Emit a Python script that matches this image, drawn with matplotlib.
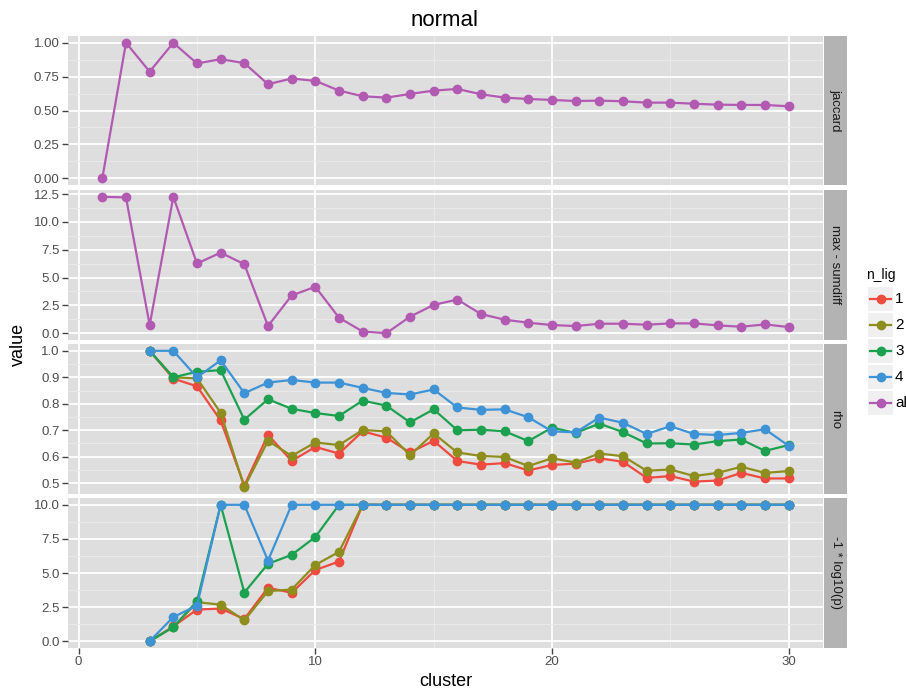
"""plot.py
Faceted line chart (ggplot-like) of cluster metrics, title 'normal'.
"""

import matplotlib.pyplot as plt
from matplotlib.patches import Rectangle

plt.rcParams['font.family'] = ['Liberation Sans', 'DejaVu Sans']

W, H = 906, 690

cluster_all = list(range(1, 31))
cluster_lig = list(range(3, 31))

jaccard_all = [0.0, 1.0, 0.787, 1.0, 0.847, 0.879, 0.85, 0.694, 0.736, 0.719,
               0.647, 0.605, 0.595, 0.622, 0.647, 0.659, 0.62, 0.595, 0.585, 0.578,
               0.57, 0.573, 0.568, 0.558, 0.558, 0.55, 0.543, 0.541, 0.541, 0.531]
sumdiff_all = [12.25, 12.2, 0.73, 12.25, 6.26, 7.23, 6.2, 0.64, 3.39, 4.17,
               1.39, 0.15, 0.0, 1.48, 2.54, 3.02, 1.72, 1.21, 0.94, 0.73,
               0.64, 0.85, 0.85, 0.76, 0.88, 0.88, 0.7, 0.58, 0.79, 0.55]

rho_1 = [1.0, 0.895, 0.866, 0.737, 0.491, 0.683, 0.584, 0.637, 0.612, 0.696,
         0.672, 0.616, 0.66, 0.584, 0.57, 0.576, 0.548, 0.569, 0.574, 0.594,
         0.581, 0.52, 0.527, 0.506, 0.51, 0.539, 0.518, 0.518]
rho_2 = [1.0, 0.9, 0.896, 0.766, 0.485, 0.66, 0.603, 0.654, 0.644, 0.701,
         0.696, 0.606, 0.688, 0.616, 0.603, 0.599, 0.565, 0.594, 0.578, 0.612,
         0.602, 0.547, 0.552, 0.527, 0.539, 0.562, 0.539, 0.546]
rho_3 = [1.0, 0.9, 0.921, 0.927, 0.74, 0.817, 0.781, 0.765, 0.754, 0.812,
         0.793, 0.73, 0.779, 0.7, 0.702, 0.696, 0.659, 0.71, 0.69, 0.725,
         0.693, 0.65, 0.651, 0.646, 0.659, 0.665, 0.622, 0.644]
rho_4 = [1.0, 1.0, 0.9, 0.964, 0.84, 0.88, 0.89, 0.88, 0.88, 0.86,
         0.841, 0.835, 0.854, 0.786, 0.777, 0.779, 0.749, 0.696, 0.692, 0.748,
         0.728, 0.686, 0.715, 0.686, 0.682, 0.69, 0.704, 0.641]

logp_1 = [0.0, 1.08, 2.32, 2.39, 1.63, 3.92, 3.55, 5.22, 5.84] + [10.0] * 19
logp_2 = [0.0, 1.03, 2.86, 2.68, 1.53, 3.67, 3.79, 5.59, 6.55] + [10.0] * 19
logp_3 = [0.0, 1.03, 2.93, 10.0, 3.57, 5.67, 6.33, 7.64, 10.0] + [10.0] * 19
logp_4 = [0.0, 1.77, 2.61, 10.0, 10.0, 5.91, 10.0, 10.0, 10.0] + [10.0] * 19

groups = ['1', '2', '3', '4', 'all']
colors = {'1': '#EE4A40', '2': '#8E8E1E', '3': '#1BA150', '4': '#3D93D5', 'all': '#B25AB2'}

panels = [
    ('jaccard', {'all': jaccard_all}, [0, 0.25, 0.5, 0.75, 1.0], '{:.2f}'),
    ('max - sumdiff', {'all': sumdiff_all}, [0, 2.5, 5, 7.5, 10, 12.5], '{:.1f}'),
    ('rho', {'1': rho_1, '2': rho_2, '3': rho_3, '4': rho_4}, [0.5, 0.6, 0.7, 0.8, 0.9, 1.0], '{:.1f}'),
    ('-1 * log10(p)', {'1': logp_1, '2': logp_2, '3': logp_3, '4': logp_4}, [0, 2.5, 5, 7.5, 10], '{:.1f}'),
]
rows = [(36, 185), (190, 340), (344, 494), (498, 648)]


def box(l, t, r, b):
    return [l / W, 1 - b / H, (r - l) / W, (b - t) / H]


fig = plt.figure(figsize=(W / 100, H / 100), dpi=100)

for i, (name, series, yt, fmt) in enumerate(panels):
    top, bot = rows[i]
    ax = fig.add_axes(box(68, top, 823, bot))
    ax.set_facecolor('#DEDEDE')
    for s in ax.spines.values():
        s.set_visible(False)
    ax.set_axisbelow(True)

    vals = []
    for g in groups:
        if g not in series:
            continue
        xs = cluster_all if g == 'all' else cluster_lig
        ax.plot(xs, series[g], color=colors[g], lw=1.6, marker='o', ms=6,
                solid_joinstyle='round')
        vals += series[g]

    lo, hi = min(vals), max(vals)
    pad = (hi - lo) * 0.05
    ax.set_ylim(lo - pad, hi + pad)
    ax.set_xlim(-0.45, 31.45)

    ax.set_yticks(yt)
    ax.set_yticklabels([fmt.format(v) for v in yt])
    ax.set_yticks([(a + b) / 2 for a, b in zip(yt[:-1], yt[1:])], minor=True)
    ax.set_xticks([0, 10, 20, 30])
    ax.set_xticks([5, 15, 25], minor=True)
    ax.grid(which='major', color='white', lw=1.3)
    ax.grid(which='minor', color='#E9E9E9', lw=0.7)
    ax.tick_params(which='major', length=4, width=1, color='#444444',
                   labelcolor='#4D4D4D', labelsize=9.5, pad=2)
    ax.tick_params(which='minor', length=0)
    if i < 3:
        ax.tick_params(axis='x', which='major', length=0, labelbottom=False)
    else:
        ax.set_xticklabels(['0', '10', '20', '30'])

    strip = fig.add_axes(box(824, top, 847, bot))
    strip.set_facecolor('#B3B3B3')
    strip.set_xticks([])
    strip.set_yticks([])
    for s in strip.spines.values():
        s.set_visible(False)
    strip.text(0.5, 0.5, name, rotation=-90, ha='center', va='center',
               fontsize=9.5, color='#1A1A1A', transform=strip.transAxes)

fig.text(445 / W, 1 - 20 / H, 'normal', ha='center', va='center', fontsize=16)
fig.text(446 / W, 1 - 681 / H, 'cluster', ha='center', va='center', fontsize=13)
fig.text(18 / W, 1 - 344 / H, 'value', ha='center', va='center', fontsize=13,
         rotation=90)

# legend
lg = fig.add_axes(box(850, 255, 906, 420))
lg.set_xlim(850, 906)
lg.set_ylim(420, 255)
lg.axis('off')
lg.text(866, 275, 'n_lig', ha='left', va='center', fontsize=10)
for k, g in enumerate(groups):
    yc = 299 + 26 * k
    lg.add_patch(Rectangle((868, yc - 12), 25, 24, color='#F0F0F0', lw=0))
    lg.plot([870, 891], [yc, yc], color=colors[g], lw=1.6)
    lg.plot([880.5], [yc], color=colors[g], marker='o', ms=6)
    lg.text(895, yc, g, ha='left', va='center', fontsize=11, clip_on=False)

fig.savefig('out.png', dpi=100)
